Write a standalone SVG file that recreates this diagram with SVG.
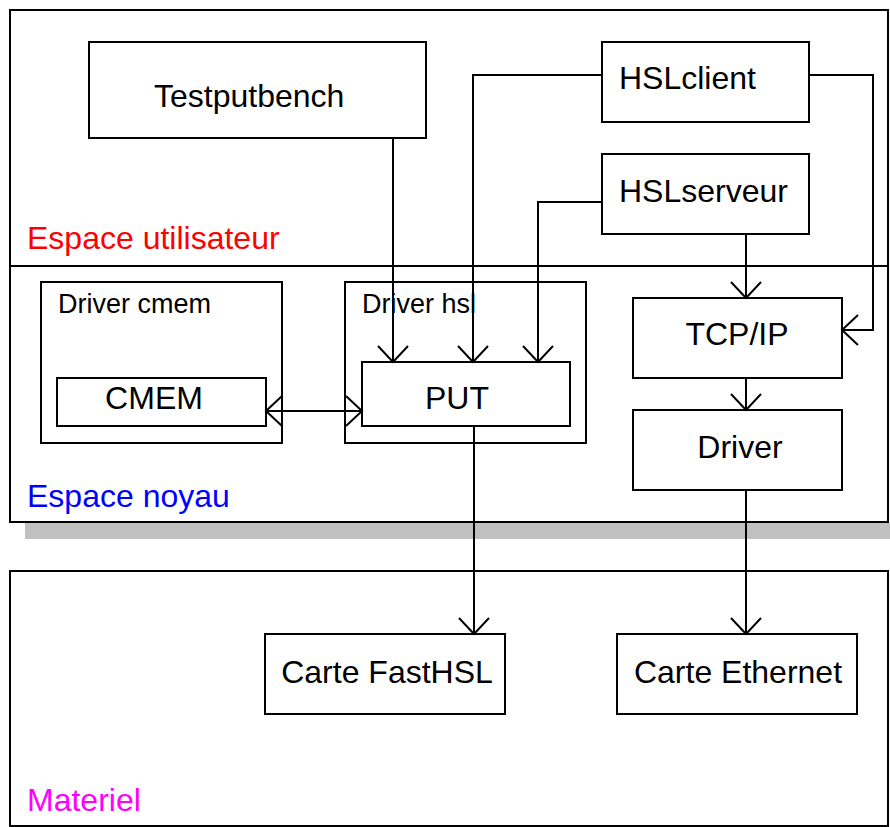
<svg xmlns="http://www.w3.org/2000/svg" width="890" height="827" viewBox="0 0 890 827">
<style>
.box{fill:#fff;stroke:#000;stroke-width:2}
.t{font-family:"Liberation Sans",Arial,sans-serif;font-size:32px;fill:#000}
.s{font-family:"Liberation Sans",Arial,sans-serif;font-size:27px;fill:#000}
.c{fill:none;stroke:#000;stroke-width:2}
</style>
<defs>
<marker id="v" viewBox="-17 -17 19 34" refX="0" refY="0" markerWidth="19" markerHeight="34" markerUnits="userSpaceOnUse" orient="auto-start-reverse">
<path d="M-16,-15 L0,0 L-16,15" fill="none" stroke="#000" stroke-width="2"/>
</marker>
</defs>
<g id="shadow"><rect x="25" y="523" width="865" height="16" fill="#c0c0c0"/></g>
<g id="espace-utilisateur">
<rect class="box" x="10" y="10" width="878" height="256"/>
<text x="27" y="249" class="t" style="fill:#ff0000">Espace utilisateur</text>
</g>
<g id="espace-noyau">
<rect class="box" x="10" y="266" width="878" height="256"/>
<text x="27" y="507" class="t" style="fill:#0000ff">Espace noyau</text>
</g>
<g id="materiel">
<rect class="box" x="10" y="571" width="878" height="255"/>
<text x="27" y="811" class="t" style="fill:#ff00ff">Materiel</text>
</g>
<g id="testputbench">
<rect class="box" x="89" y="42" width="337" height="96"/>
<text x="154" y="107" class="t">Testputbench</text>
</g>
<g id="hslclient">
<rect class="box" x="602" y="42" width="207" height="80"/>
<text x="619" y="89" class="t">HSLclient</text>
</g>
<g id="hslserveur">
<rect class="box" x="602" y="154" width="207" height="80"/>
<text x="619" y="202" class="t">HSLserveur</text>
</g>
<g id="driver-cmem">
<rect class="box" x="41" y="282" width="241" height="161"/>
<text x="58" y="313" class="s">Driver cmem</text>
</g>
<g id="cmem">
<rect class="box" x="57" y="378" width="209" height="48"/>
<text x="154" y="409" class="t" text-anchor="middle">CMEM</text>
</g>
<g id="driver-hsl">
<rect class="box" x="345" y="282" width="241" height="161"/>
<text x="362" y="313" class="s">Driver hsl</text>
</g>
<g id="put">
<rect class="box" x="362" y="362" width="208" height="64"/>
<text x="457" y="409" class="t" text-anchor="middle">PUT</text>
</g>
<g id="tcpip">
<rect class="box" x="633" y="298" width="209" height="80"/>
<text x="737" y="345" class="t" text-anchor="middle">TCP/IP</text>
</g>
<g id="driver">
<rect class="box" x="633" y="410" width="209" height="80"/>
<text x="740" y="458" class="t" text-anchor="middle">Driver</text>
</g>
<g id="carte-fasthsl">
<rect class="box" x="265" y="634" width="240" height="80"/>
<text x="387" y="683" class="t" text-anchor="middle">Carte FastHSL</text>
</g>
<g id="carte-ethernet">
<rect class="box" x="617" y="634" width="240" height="80"/>
<text x="738" y="683" class="t" text-anchor="middle">Carte Ethernet</text>
</g>
<g id="connectors">
<path class="c" d="M393,138 V362" marker-end="url(#v)"/>
<path class="c" d="M602,75 H473 V362" marker-end="url(#v)"/>
<path class="c" d="M602,202 H538 V362" marker-end="url(#v)"/>
<path class="c" d="M809,75 H873 V330 H842" marker-end="url(#v)"/>
<path class="c" d="M746,234 V298" marker-end="url(#v)"/>
<path class="c" d="M746,378 V410" marker-end="url(#v)"/>
<path class="c" d="M746,490 V634" marker-end="url(#v)"/>
<path class="c" d="M474,426 V634" marker-end="url(#v)"/>
<path class="c" d="M266,411 H362" marker-start="url(#v)" marker-end="url(#v)"/>
</g>
</svg>
